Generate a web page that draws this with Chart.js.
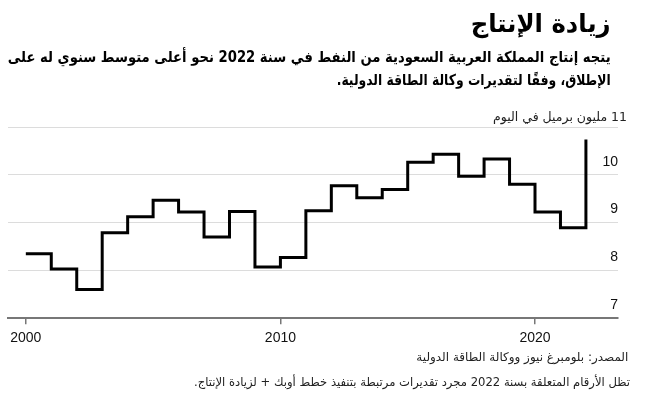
<!DOCTYPE html>
<html><head><meta charset="utf-8">
<script src="https://cdn.jsdelivr.net/npm/chart.js@4.4.1/dist/chart.umd.min.js"></script>
<style>
html,body{margin:0;padding:0;background:#fff;width:649px;height:402px;overflow:hidden}
#wrap{position:relative;width:649px;height:402px}
canvas{position:absolute;left:0;top:0}
.t{position:absolute;direction:rtl;text-align:right;white-space:nowrap;font-family:"DejaVu Sans",sans-serif;color:#000;transform-origin:right center}
#title{right:38px;top:9px;font-size:25px;font-weight:bold}
.sub{right:38px;font-size:15px;font-weight:bold}
#sub1{top:48px}
#sub2{top:71px}
#unit{right:22px;top:109px;font-size:12.5px;color:#222}
#src{right:21px;top:350px;font-size:12px;color:#222}
#note{right:19px;top:375px;font-size:12px;color:#222}
</style></head>
<body><div id="wrap">
<canvas id="c" width="649" height="402"></canvas>
<div class="t" id="title" data-w="140">زيادة الإنتاج</div>
<div class="t sub" id="sub1" data-w="603">يتجه إنتاج المملكة العربية السعودية من النفط في سنة 2022 نحو أعلى متوسط سنوي له على</div>
<div class="t sub" id="sub2" data-w="274">الإطلاق، وفقًا لتقديرات وكالة الطاقة الدولية.</div>
<div class="t" id="unit" data-w="134">11 مليون برميل في اليوم</div>
<div class="t" id="src" data-w="212">المصدر: بلومبرغ نيوز ووكالة الطاقة الدولية</div>
<div class="t" id="note" data-w="436">تظل الأرقام المتعلقة بسنة 2022 مجرد تقديرات مرتبطة بتنفيذ خطط أوبك + لزيادة الإنتاج.</div>
</div>
<script>
const years = [2000,2001,2002,2003,2004,2005,2006,2007,2008,2009,2010,2011,2012,2013,2014,2015,2016,2017,2018,2019,2020,2021,2022];
const production = [8.35,8.03,7.60,8.79,9.12,9.47,9.22,8.70,9.23,8.07,8.27,9.25,9.77,9.52,9.69,10.26,10.43,9.97,10.33,9.80,9.22,8.89,10.74];
const xTicks = [2000,2010,2020];
const yTicks = [7,8,9,10,11];
const yTickLabels = ['7','8','9','10',''];

document.querySelectorAll('.t[data-w]').forEach(el => {
  const w = el.getBoundingClientRect().width;
  const target = parseFloat(el.dataset.w);
  if (w > 0) el.style.transform = 'scaleX(' + (target / w) + ')';
});

new Chart(document.getElementById('c'), {
  type: 'line',
  data: {
    datasets: [{
      data: years.map((y,i)=>({x:y, y:production[i]})),
      borderColor: '#000',
      borderWidth: 3,
      stepped: true,
      pointRadius: 0,
      fill: false,
      borderJoinStyle: 'miter',
      borderCapStyle: 'butt'
    }]
  },
  options: {
    responsive: false,
    animation: false,
    layout: {padding: {left: 8, right: 31, top: 127, bottom: 49}},
    plugins: {legend: {display: false}, tooltip: {enabled: false}},
    scales: {
      x: {
        type: 'linear', min: 1999.3, max: 2023.26,
        afterBuildTicks: s => { s.ticks = xTicks.map(v => ({value: v})); },
        grid: {drawOnChartArea: false, drawTicks: true, tickLength: 6, color: '#777', lineWidth: 1.5},
        border: {display: true, color: '#777', width: 2},
        ticks: {padding: 6, color: '#111', font: {family: 'Liberation Sans', size: 14}, maxRotation: 0, autoSkip: false,
          callback: v => String(v)}
      },
      y: {
        position: 'right', min: 7, max: 11,
        afterBuildTicks: s => { s.ticks = yTicks.map(v => ({value: v})); },
        grid: {color: '#dcdcdc', lineWidth: 1, drawTicks: false},
        border: {display: false},
        ticks: {mirror: true, padding: 0, labelOffset: -13, color: '#111', font: {family: 'Liberation Sans', size: 14},
          callback: (v, i) => yTickLabels[i]}
      }
    }
  }
});
</script>
</body></html>
